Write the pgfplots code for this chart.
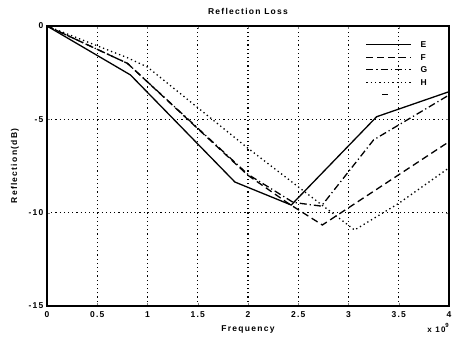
\documentclass[border=0pt]{standalone}
\usepackage{fontspec}
\setmainfont{Liberation Sans}[LetterSpace=15]
\usepackage{pgfplots}
\pgfplotsset{compat=1.18}
\begin{document}
\begin{tikzpicture}
\begin{axis}[
  at={(0,0)}, anchor=south west,
  scale only axis, width=402pt, height=280pt,
  xmin=0, xmax=4, ymin=-15, ymax=0,
  clip mode=individual,
  xtick={0,0.5,1,1.5,2,2.5,3,3.5,4},
  xticklabels={0,0.5,1,1.5,2,2.5,3,3.5,4},
  ytick={-15,-10,-5,0},
  yticklabels={-15,-10,-5,0},
  tick align=inside, major tick length=3pt,
  axis line style={line width=1.3pt},
  xmajorgrids=true, ymajorgrids=true,
  grid style={black, line width=1.1pt, dash pattern=on 1.2pt off 3pt},
  ticklabel style={font=\bfseries\fontsize{8.5}{9}\selectfont},
  xticklabel style={yshift=-2pt},
  title={\bfseries Reflection Loss},
  title style={font=\fontsize{8.5}{9}\selectfont, yshift=2pt},
  xlabel={\bfseries Frequency},
  ylabel={\bfseries Reflection(dB)},
  label style={font=\fontsize{8.5}{9}\selectfont},
  xlabel style={yshift=-1pt},
  ylabel style={yshift=3pt},
  legend image code/.code={\draw[#1] (0pt,0pt) -- (45pt,0pt);},
  legend style={draw=none, fill=none, at={(0.785,0.957)}, anchor=north west,
    font=\bfseries\fontsize{8.5}{9}\selectfont,
    nodes={inner sep=0.5pt, text height=7pt, text depth=1pt},
    column sep=8pt, row sep=3.5pt},
  legend cell align=left,
]
\addplot[black, line width=1.3pt] coordinates {(0,0) (0.83,-2.62) (1.87,-8.36) (2.43,-9.59) (3.28,-4.86) (4,-3.52)};
\addlegendentry{E}
\addplot[black, line width=1.3pt, dash pattern=on 7pt off 4pt] coordinates {(0,0) (0.8,-2.0) (2.0,-8.0) (2.4,-9.5) (2.74,-10.66) (4,-6.2)};
\addlegendentry{F}
\addplot[black, line width=1.3pt, dash pattern=on 7pt off 3pt on 1.2pt off 3pt] coordinates {(0,0) (0.8,-2.0) (2.0,-7.95) (2.45,-9.45) (2.73,-9.65) (3.25,-6.1) (4,-3.7)};
\addlegendentry{G}
\addplot[black, line width=1.3pt, dash pattern=on 1.3pt off 3pt] coordinates {(0,0) (0.8,-1.7) (1.0,-2.2) (2.0,-6.55) (3.06,-10.93) (3.5,-9.5) (4,-7.6)};
\addlegendentry{H}
\addlegendimage{legend image code/.code={\draw[black, line width=1pt] (16pt,0pt) -- (22pt,0pt);}}
\addlegendentry{}
\node[anchor=north east, font=\bfseries\fontsize{8}{9}\selectfont, inner sep=0pt] at (rel axis cs:1,0) [yshift=-17pt] {x 10\raisebox{5pt}{\fontsize{6}{7}\selectfont 9}};
\end{axis}
\pgfresetboundingbox
\useasboundingbox (-47pt,-34pt) rectangle (405pt,306pt);
\end{tikzpicture}
\end{document}
